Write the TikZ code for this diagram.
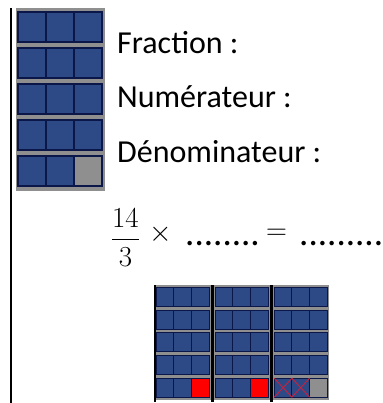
\documentclass[tikz,border=0pt]{standalone}
\usepackage{fix-cm}
\usepackage{fontspec}
\setmainfont{Carlito}
\usetikzlibrary{positioning}

\definecolor{cellblue}{HTML}{2D4A87}
\definecolor{cellnavy}{HTML}{0C1749}
\definecolor{bargray}{HTML}{8F8F8F}
\definecolor{crossred}{HTML}{C9203D}

\begin{document}
\begin{tikzpicture}[
    x=1pt, y=-1pt,
    word/.style={anchor=base west, inner sep=0pt, font=\fontsize{32}{38}\selectfont},
    sym/.style={inner sep=0pt, font=\fontsize{29}{34}\selectfont},
    dots/.style={anchor=base west, inner sep=0pt, font=\fontsize{37}{40}\selectfont},
    cell/.style={fill=cellblue, draw=cellnavy, line width=1.4pt},
    emptycell/.style={cell, fill=bargray},
    redcell/.style={cell, fill=red},
    lastcell/.style=emptycell,
    cross/.style={draw=crossred, line width=0.9pt},
    divider/.style={line width=2.6pt},
    bar/.pic={
        \fill[bargray] (0,0) rectangle (89,183);
        \foreach \r in {0,...,3}
            \foreach \c in {0,1,2}
                \draw[cell] (2+28*\c,4+36*\r) rectangle ++(28,30);
        \draw[cell] (2,148) rectangle ++(28,30);
        \draw[cell] (30,148) rectangle ++(28,30);
        \draw[lastcell] (58,148) rectangle ++(28,30);
        \coordinate (-p0) at (2,148);
        \coordinate (-p1) at (30,148);
        \coordinate (-p2) at (58,148);
        \coordinate (-q0) at (2,178);
        \coordinate (-q1) at (30,178);
        \coordinate (-q2) at (58,178);
    }
]
\useasboundingbox (0,0) rectangle (382,403);

% Margin line
\draw[divider] (11,8) -- (11,403);

% Whole bar
\pic (whole) at (16,8) {bar};

% Questions
\node[word] (fraction) at (117,54) {Fraction :};
\node[word] (numerateur) at (117,108) {Numérateur :};
\node[word] (denominateur) at (117,163) {Dénominateur :};

% Product
\node[sym] (frac) at (125.5,237.5) {$\displaystyle\frac{14}{3}$};
\node[sym] (times) at (161,234) {$\times$};
\node[dots] (blank1) at (185,245) {........};
\node[sym] (equals) at (276.5,234) {$=$};
\node[dots] (blank2) at (299,245) {.........};

% Three bars
\pic[scale=0.63, cell/.append style={line width=0.9pt}, lastcell/.style=redcell] (b1) at (155,285) {bar};
\pic[scale=0.63, cell/.append style={line width=0.9pt}, lastcell/.style=redcell] (b2) at (214,285) {bar};
\pic[scale=0.63, cell/.append style={line width=0.9pt}] (b3) at (273,285) {bar};
\draw[divider, line width=1.8pt] (155,285) -- (155,402);
\draw[divider] (212.5,285) -- (212.5,402);
\draw[divider] (271.5,285) -- (271.5,402);

% Crossed cells
\draw[cross] (b3-p0) -- (b3-q1);
\draw[cross] (b3-q0) -- (b3-p1);
\draw[cross] (b3-p1) -- (b3-q2);
\draw[cross] (b3-q1) -- (b3-p2);

\end{tikzpicture}
\end{document}
